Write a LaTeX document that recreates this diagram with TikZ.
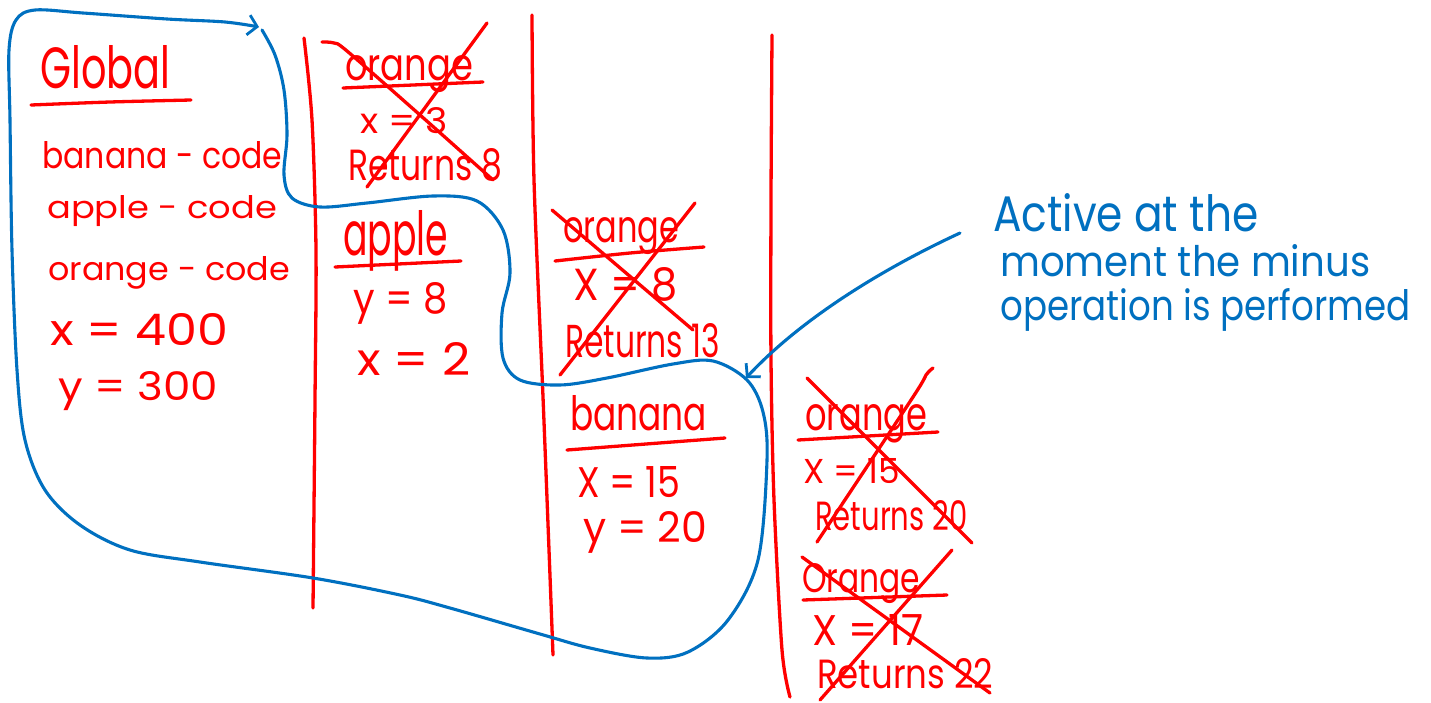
\documentclass[tikz,border=0pt]{standalone}
\usepackage{fontspec}
\setmainfont{Poppins}
\usepackage{graphicx}
\usetikzlibrary{arrows.meta}
\definecolor{ink}{HTML}{FF0000}
\definecolor{pen}{HTML}{0070C0}
\newcommand\hw[3]{\resizebox{#1pt}{#2pt}{#3}}
\tikzset{
  redtxt/.style={inner sep=0pt, anchor=base west, text=ink},
  bluetxt/.style={inner sep=0pt, anchor=base west, text=pen},
  redline/.style={draw=ink, line width=3.3pt, line cap=round, line join=round},
  blueline/.style={draw=pen, line width=3.1pt, line cap=round, line join=round},
  barb/.style={-{Straight Barb[length=9pt,width=20pt,line width=2.8pt]}}
}
\begin{document}
\begin{tikzpicture}[x=1pt,y=-1pt]
\useasboundingbox[fill=white] (0,0) rectangle (1431,702);

% ---- red column dividers
\draw[redline] plot[smooth] coordinates {(304,38) (312,120) (316,250) (315,400) (313,608)};
\draw[redline] plot[smooth] coordinates {(532,15) (534,180) (543,397) (549,550) (553,655)};
\draw[redline] plot[smooth] coordinates {(772,35) (771,200) (771,360) (774,500) (782,650) (790,697)};

% ---- Global frame
\node[redtxt] (glob) at (40,88) {\hw{130}{43}{Global}};
\draw[redline] plot[smooth] coordinates {(31,105) (110,102) (191,100)};
\node[redtxt] (gb) at (42,168) {\hw{240}{27}{banana - code}};
\node[redtxt] (ga) at (47,218) {\hw{230}{23}{apple - code}};
\node[redtxt] (go) at (48,280) {\hw{242}{24}{orange - code}};
\node[redtxt] (gx) at (50,345) {\hw{178}{32}{x = 400}};
\node[redtxt] (gy) at (58,400) {\hw{160}{29}{y = 300}};

% ---- column 2: orange (crossed)
\node[redtxt] (o1) at (345,80) {\hw{128}{25}{orange}};
\draw[redline] (343,88) -- (483,82);
\node[redtxt] (o1x) at (360,133) {\hw{88}{26}{x = 3}};
\node[redtxt] (o1r) at (348,180) {\hw{154}{32}{Returns 8}};
\draw[redline] plot[smooth] coordinates {(322,42) (334,43) (347,51) (420,115) (493,180)};
\draw[redline] (487,23) -- (367,187);

% ---- column 2: apple
\node[redtxt] (ap) at (343,255) {\hw{105}{45}{apple}};
\draw[redline] (335,267) -- (461,261);
\node[redtxt] (apy) at (353,313) {\hw{94}{31}{y = 8}};
\node[redtxt] (apx) at (357,375) {\hw{113}{33}{x = 2}};

% ---- column 3: orange (crossed)
\node[redtxt] (o2) at (563,242) {\hw{116}{25}{orange}};
\draw[redline] plot[smooth] coordinates {(555,261) (630,253) (704,247)};
\node[redtxt] (o2x) at (573,300) {\hw{104}{33}{X = 8}};
\node[redtxt] (o2r) at (565,357) {\hw{155}{34}{Returns 13}};
\draw[redline] (552,210) -- (693,330);
\draw[redline] (695,203) -- (560,375);

% ---- column 3: banana
\node[redtxt] (bn) at (570,430) {\hw{137}{35}{banana}};
\draw[redline] (567,450) -- (725,438);
\node[redtxt] (bnx) at (577,497) {\hw{103}{31}{X = 15}};
\node[redtxt] (bny) at (583,542) {\hw{124}{31}{y = 20}};

% ---- column 4: orange (crossed)
\node[redtxt] (o3) at (805,430) {\hw{122}{26}{orange}};
\draw[redline] (798,440) -- (938,432);
\node[redtxt] (o3x) at (803,483) {\hw{97}{25}{X = 15}};
\node[redtxt] (o3r) at (815,530) {\hw{152}{30}{Returns 20}};
\draw[redline] (807,378) -- (972,543);
\draw[redline] plot[smooth] coordinates {(933,368) (926,375) (913,397) (817,542)};

% ---- column 4: Orange (crossed)
\node[redtxt] (o4) at (802,592) {\hw{118}{29}{Orange}};
\draw[redline] (803,600) -- (947,595);
\node[redtxt] (o4x) at (812,645) {\hw{111}{31}{X = 17}};
\node[redtxt] (o4r) at (817,688) {\hw{176}{30}{Returns 22}};
\draw[redline] (802,557) -- (990,693);
\draw[redline] (952,550) -- (820,700);

% ---- blue active-frames loop
\draw[blueline, barb] plot[smooth, tension=0.55] coordinates {
 (262,30) (275,55) (284,90) (287,135) (284,175) (292,198) (320,207) (367,203)
 (433,196) (477,201) (503,230) (510,273) (502,313) (503,358) (520,380) (560,385)
 (607,378) (673,364) (713,361) (747,380) (763,412) (767,460) (758,560) (728,620)
 (688,652) (647,658) (590,648) (540,634) (450,608) (400,595) (313,578) (200,562)
 (130,550) (80,525) (45,490) (25,440) (17,370) (12,250) (10,120) (9,50) (16,20)
 (35,10) (83,13) (167,19) (225,22) (259,27)};

% ---- blue note
\node[bluetxt] (n1) at (993,231) {\hw{265}{38}{Active at the}};
\node[bluetxt] (n2) at (1000,276) {\hw{370}{32}{moment the minus}};
\node[bluetxt] (n3) at (1000,320) {\hw{410}{32}{operation is performed}};
\coordinate (tip) at (746,378);
\draw[blueline, barb] (960,233) .. controls (880,270) and (800,320) .. (tip);
\end{tikzpicture}
\end{document}
